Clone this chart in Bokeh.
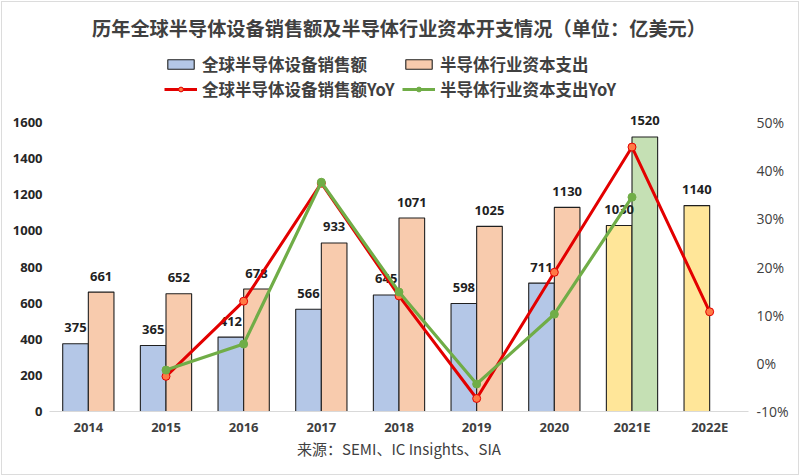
from bokeh.plotting import figure
from bokeh.models import (ColumnDataSource, FactorRange, Range1d, LinearAxis,
                          FixedTicker, PrintfTickFormatter, Legend, LegendItem)
from bokeh.transform import dodge
from bokeh.core.properties import value
from bokeh.embed import file_html
from bokeh.resources import INLINE

# ---------------- data ----------------
years = ["2014", "2015", "2016", "2017", "2018", "2019", "2020", "2021E", "2022E"]
equipment_sales = [375, 365, 412, 566, 645, 598, 711, 1030, 1140]
capex = [661, 652, 678, 933, 1071, 1025, 1130, 1520, None]
equipment_yoy = [None, -2.7, 12.9, 37.4, 14.0, -7.3, 18.9, 44.9, 10.7]
capex_yoy = [None, -1.4, 4.0, 37.6, 14.8, -4.3, 10.2, 34.5, None]
left_ticks = [0, 200, 400, 600, 800, 1000, 1200, 1400, 1600]
right_ticks = [-10, 0, 10, 20, 30, 40, 50]
title_text = "历年全球半导体设备销售额及半导体行业资本开支情况（单位：亿美元）"
source_text = "来源：SEMI、IC Insights、SIA"
legend_labels = ["全球半导体设备销售额", "半导体行业资本支出",
                 "全球半导体设备销售额YoY", "半导体行业资本支出YoY"]

# ---------------- layout / styles ----------------
W, H = 800, 476
TOP, BOTTOM, LEFT, RIGHT = 43, 65, 49, 52
AXIS_SPAN_PX = 289            # pixel height of the 0..1600 / -10..50 axis span
FRAME_H = H - TOP - BOTTOM
lo_l, hi_l = left_ticks[0], left_ticks[-1]
lo_r, hi_r = right_ticks[0], right_ticks[-1]
y_end = lo_l + (hi_l - lo_l) * FRAME_H / AXIS_SPAN_PX
pct_end = lo_r + (hi_r - lo_r) * FRAME_H / AXIS_SPAN_PX

CJK = "Noto Sans CJK SC"
LAT = "Open Sans"
BLUE, ORANGE, YELLOW, GREEN = "#B4C7E7", "#F8CBAD", "#FFE699", "#C5E0B4"
RED_LINE, RED_MARK, GREEN_LINE = "#E30000", "#FF7A45", "#70AD47"
EDGE = "#1f1f1f"
BW = 0.33
OFF = 0.165


def subset(xs, ys, forecast):
    pairs = [(x, y) for x, y in zip(xs, ys) if y is not None and x.endswith("E") == forecast]
    return dict(x=[p[0] for p in pairs], y=[p[1] for p in pairs], t=[str(p[1]) for p in pairs])


eq_act = ColumnDataSource(subset(years, equipment_sales, False))
eq_fc = ColumnDataSource(subset(years, equipment_sales, True))
cx_act = ColumnDataSource(subset(years, capex, False))
cx_fc = ColumnDataSource(subset(years, capex, True))

eq_yoy_src = ColumnDataSource(dict(
    x=[x for x, v in zip(years, equipment_yoy) if v is not None],
    y=[v for v in equipment_yoy if v is not None]))
cx_yoy_src = ColumnDataSource(dict(
    x=[x for x, v in zip(years, capex_yoy) if v is not None],
    y=[v for v in capex_yoy if v is not None]))

p = figure(x_range=FactorRange(factors=years, range_padding=0),
           y_range=Range1d(lo_l, y_end),
           width=W, height=H,
           output_backend="svg", toolbar_location=None,
           min_border_left=LEFT, min_border_right=RIGHT,
           min_border_top=TOP, min_border_bottom=BOTTOM)
p.extra_y_ranges = {"pct": Range1d(lo_r, pct_end)}

# thin light-grey outer border around the whole chart (behind a transparent border fill)
p.styles = {"background-color": "white",
            "box-shadow": "inset 0 0 0 1px #ffffff, inset 0 0 0 2px #dcdcdc"}
p.border_fill_color = None
p.background_fill_color = "white"

p.title.text = title_text
p.title.align = "center"
p.title.text_font = CJK
p.title.text_font_size = "19.2px"
p.title.text_font_style = "bold"
p.title.text_color = "#404040"
p.title.standoff = 4
p.title.offset = -4

p.outline_line_color = None
p.xgrid.grid_line_color = None
p.ygrid.grid_line_color = None

# bars
r_eq = p.vbar(x=dodge("x", -OFF, range=p.x_range), top="y", width=BW, source=eq_act,
              fill_color=BLUE, line_color=EDGE, line_width=1.1)
p.vbar(x=dodge("x", -OFF, range=p.x_range), top="y", width=BW, source=eq_fc,
       fill_color=YELLOW, line_color=EDGE, line_width=1.1)
r_cx = p.vbar(x=dodge("x", OFF, range=p.x_range), top="y", width=BW, source=cx_act,
              fill_color=ORANGE, line_color=EDGE, line_width=1.1)
p.vbar(x=dodge("x", OFF, range=p.x_range), top="y", width=BW, source=cx_fc,
       fill_color=GREEN, line_color=EDGE, line_width=1.1)

# value labels
for src, off in ((eq_act, -OFF), (eq_fc, -OFF), (cx_act, OFF), (cx_fc, OFF)):
    p.text(x=dodge("x", off, range=p.x_range), y="y", text="t", source=src,
           text_align="center", text_baseline="middle", y_offset=-16,
           text_font=value(LAT), text_font_size="13px", text_font_style="bold",
           text_color="#1f1f1f")

# YoY lines
r_l1 = p.line(x="x", y="y", source=eq_yoy_src, y_range_name="pct",
              line_color=RED_LINE, line_width=3)
r_m1 = p.scatter(x="x", y="y", source=eq_yoy_src, y_range_name="pct", size=8,
                 fill_color=RED_MARK, line_color=RED_LINE, line_width=1)
r_l2 = p.line(x="x", y="y", source=cx_yoy_src, y_range_name="pct",
              line_color=GREEN_LINE, line_width=3.2)
r_m2 = p.scatter(x="x", y="y", source=cx_yoy_src, y_range_name="pct", size=8,
                 fill_color=GREEN_LINE, line_color=GREEN_LINE, line_width=1)


def no_ticks(ax):
    ax.major_tick_line_color = None
    ax.minor_tick_line_color = None
    ax.major_tick_out = 0
    ax.major_tick_in = 0
    ax.minor_tick_out = 0
    ax.minor_tick_in = 0


# axes
xa = p.xaxis[0]
no_ticks(xa)
xa.axis_line_color = "#D9D9D9"
xa.axis_line_width = 1
xa.major_label_text_font = LAT
xa.major_label_text_font_size = "13px"
xa.major_label_text_font_style = "bold"
xa.major_label_text_color = "#404040"
xa.major_label_standoff = 6
xa.axis_label = source_text
xa.axis_label_text_font = CJK
xa.axis_label_text_font_size = "15px"
xa.axis_label_text_font_style = "normal"
xa.axis_label_text_color = "#404040"
xa.axis_label_standoff = -1
xa.axis_label_text_line_height = 1.0

ya = p.yaxis[0]
no_ticks(ya)
ya.ticker = FixedTicker(ticks=left_ticks)
ya.axis_line_color = None
ya.major_label_text_font = LAT
ya.major_label_text_font_size = "13px"
ya.major_label_text_font_style = "bold"
ya.major_label_text_color = "#262626"
ya.major_label_standoff = 7

ra = LinearAxis(y_range_name="pct", ticker=FixedTicker(ticks=right_ticks),
                formatter=PrintfTickFormatter(format="%d%%"))
no_ticks(ra)
ra.axis_line_color = None
ra.major_label_text_font = LAT
ra.major_label_text_font_size = "14px"
ra.major_label_text_color = "#404040"
ra.major_label_standoff = 8
p.add_layout(ra, "right")

legend = Legend(items=[
    LegendItem(label=legend_labels[0], renderers=[r_eq]),
    LegendItem(label=legend_labels[1], renderers=[r_cx]),
    LegendItem(label=legend_labels[2], renderers=[r_l1, r_m1]),
    LegendItem(label=legend_labels[3], renderers=[r_l2, r_m2]),
], orientation="horizontal", ncols=2, location=(115, 310),
    label_text_font=CJK, label_text_font_size="16.5px", label_text_font_style="bold",
    label_text_color="#404040", glyph_width=33, glyph_height=12, label_standoff=5,
    label_width=199, spacing=1, padding=0, margin=0,
    border_line_color=None, background_fill_alpha=0)
p.add_layout(legend, "center")

open("out.html", "w").write(file_html(p, INLINE))
